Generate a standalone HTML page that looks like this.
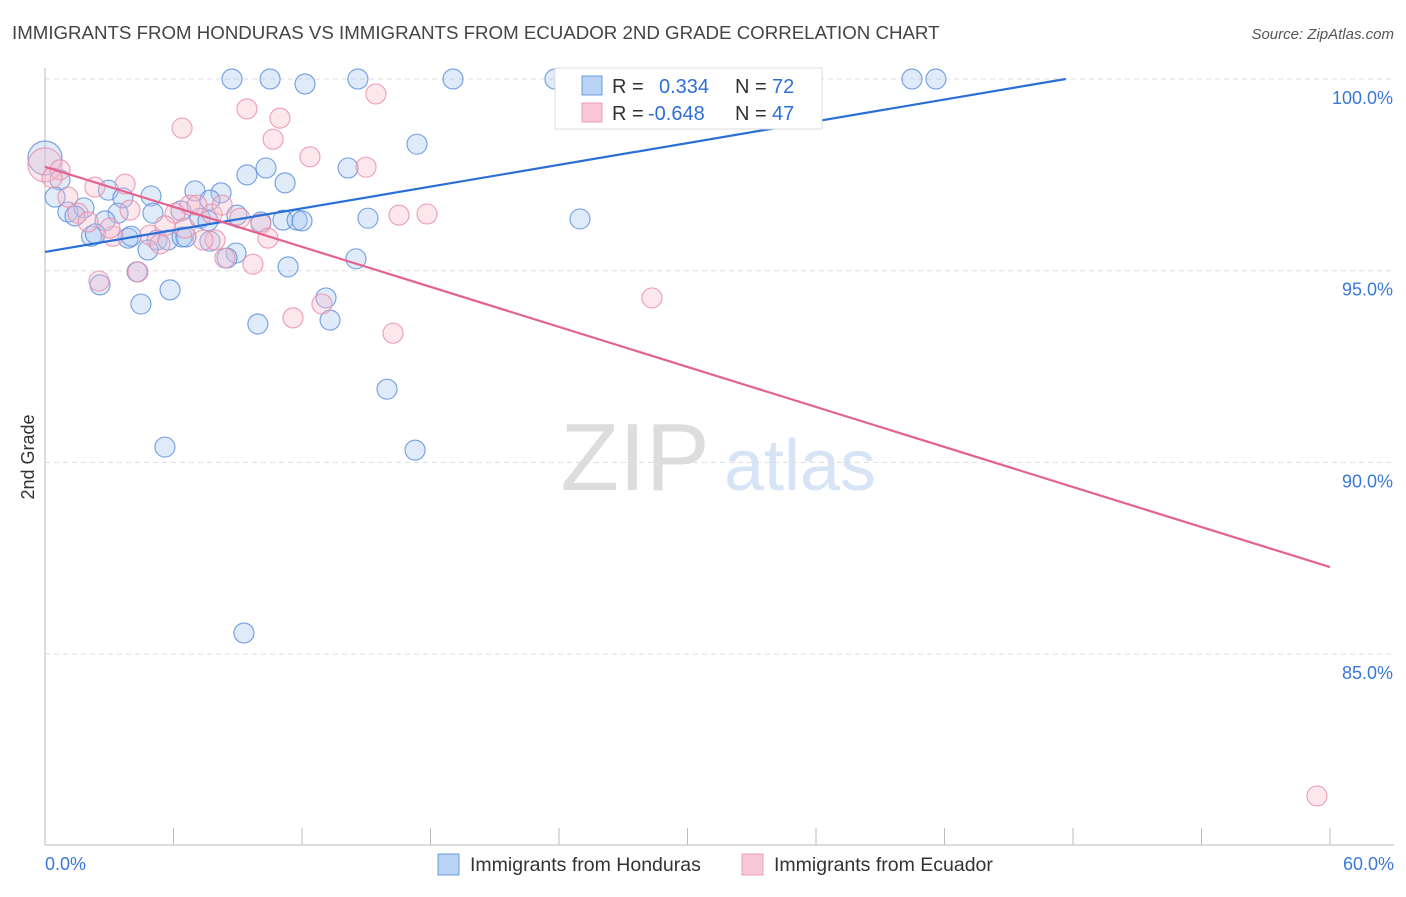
<!DOCTYPE html>
<html><head><meta charset="utf-8"><style>
body{margin:0;background:#fff;font-family:"Liberation Sans",sans-serif}
text{font-family:"Liberation Sans",sans-serif}
</style></head><body>
<svg id="chart" width="1406" height="892">
<text x="12" y="39" font-size="18.7" fill="#444">IMMIGRANTS FROM HONDURAS VS IMMIGRANTS FROM ECUADOR 2ND GRADE CORRELATION CHART</text>
<text x="1394" y="39" font-size="15" fill="#555" font-style="italic" text-anchor="end">Source: ZipAtlas.com</text>
<text x="34" y="457" font-size="18" fill="#333" transform="rotate(-90 34 457)" text-anchor="middle">2nd Grade</text>
<g><text x="635" y="490" font-size="96" fill="#ddd" font-family="Liberation Serif" text-anchor="middle">ZIP</text><text x="800" y="490" font-size="72" fill="#d6e4f5" text-anchor="middle">atlas</text></g>
<g id="grid"></g><g id="axes"></g><g id="pts"></g><g id="trend"></g>
<g>
<rect x="555" y="68" width="267" height="61" fill="#fff" stroke="#ddd"/>
<rect x="582" y="76" width="20" height="19" fill="#b8d3f4" stroke="#6a9be0"/>
<rect x="582" y="103" width="20" height="19" fill="#f9c8d6" stroke="#eb9fb6"/>
<text x="612" y="93" font-size="20" fill="#333">R =</text><text x="659" y="93" font-size="20" fill="#2f6fd6">0.334</text>
<text x="735" y="93" font-size="20" fill="#333">N =</text><text x="772" y="93" font-size="20" fill="#2f6fd6">72</text>
<text x="612" y="120" font-size="20" fill="#333">R =</text><text x="648" y="120" font-size="20" fill="#2f6fd6">-0.648</text>
<text x="735" y="120" font-size="20" fill="#333">N =</text><text x="772" y="120" font-size="20" fill="#2f6fd6">47</text>
</g>
<g>
<rect x="438" y="854" width="21" height="21" fill="#b8d3f4" stroke="#6a9be0"/>
<text x="470" y="871" font-size="19.5" fill="#333">Immigrants from Honduras</text>
<rect x="742" y="854" width="21" height="21" fill="#f9c8d6" stroke="#eb9fb6"/>
<text x="774" y="871" font-size="19.5" fill="#333">Immigrants from Ecuador</text>
</g>
</svg>
<script>
const yTicks=[100,95,90,85];
const xTickLabels=["0.0%","60.0%"];
const blueX=[8.73,10.51,12.14,14.61,19.05,23.81,24.51,27.41,28.15,40.48,41.6,17.37,14.15,10.32,9.43,11.21,0.7,0.47,2.96,7.0,8.22,4.95,3.64,7.7,1.07,1.82,1.4,3.41,5.04,6.35,8.96,7.24,7.61,10.08,11.11,11.77,12.0,15.08,24.98,2.8,2.17,2.35,3.88,4.02,5.23,4.81,5.74,6.4,6.58,7.7,8.92,8.5,14.52,11.35,4.3,2.57,5.84,4.48,13.12,13.31,9.94,15.97,5.6,17.28,9.29,0];
const blueY=[100,100,99.87,100,100,100,100,100,100,100,100,98.3,97.68,97.68,97.5,97.29,97.37,96.92,97.1,97.08,97.03,96.95,96.9,96.84,96.53,96.64,96.43,96.5,96.5,96.56,96.45,96.37,96.3,96.27,96.32,96.32,96.3,96.37,96.35,96.3,95.9,95.96,95.85,95.9,95.8,95.54,95.8,95.88,95.88,95.77,95.46,95.33,95.31,95.1,94.97,94.63,94.5,94.13,94.29,93.71,93.61,91.91,90.4,90.32,85.55,97.94];
const pinkX=[0,0.7,0.33,2.33,3.74,1.07,6.4,9.43,10.97,10.65,12.37,15.45,14.99,16.53,17.84,28.34,16.25,59.39,3.97,1.54,2.01,3.18,4.9,5.37,6.07,6.77,7.1,7.8,8.27,7.94,7.38,9.1,10.08,10.41,8.4,9.71,4.34,2.52,11.58,12.93,5.6,3.03,6.54];
const pinkY=[97.76,97.63,97.42,97.18,97.26,96.92,98.72,99.22,98.98,98.43,97.97,99.61,97.7,96.45,96.48,94.29,93.37,81.3,96.58,96.5,96.27,95.9,95.93,95.7,96.5,96.71,96.71,96.48,96.71,95.8,95.8,96.37,96.22,95.85,95.33,95.17,94.97,94.73,93.77,94.13,96.17,96.11,96.11];
const blueTrend=[[0,95.49],[47.66,100]];
const pinkTrend=[[0,97.71],[60,87.27]];
const sx=v=>45+v/60*1285;
const sy=v=>79+(100-v)/5*191.7;
const NS="http://www.w3.org/2000/svg";
function mk(t,a,p){const e=document.createElementNS(NS,t);for(const k in a)e.setAttribute(k,a[k]);p.appendChild(e);return e;}
const grid=document.getElementById('grid'),axes=document.getElementById('axes'),pts=document.getElementById('pts'),tr=document.getElementById('trend');
yTicks.forEach(v=>{
 const l=mk('line',{x1:45,x2:1394,y1:sy(v),y2:sy(v),stroke:'#ddd','stroke-dasharray':'5,4'},grid);
 
 
 const t=mk('text',{x:1393,y:sy(v)+25,'font-size':18,fill:'#3a78d8','text-anchor':'end'},grid);
 t.textContent=v.toFixed(1)+'%';
 
 
});
const ax=mk('line',{x1:45,x2:45,y1:68,y2:845,stroke:'#bbb'},axes);


const bx=mk('line',{x1:45,x2:1394,y1:845,y2:845,stroke:'#bbb'},axes);


for(let i=0;i<=10;i++){const t=mk('line',{x1:sx(i*6),x2:sx(i*6),y1:828,y2:845,stroke:'#bbb'},axes);
 
 }
[[45,'start'],[1394,'end']].forEach((p,i)=>{const t=mk('text',{x:p[0],y:870,'font-size':18,fill:'#3a78d8','text-anchor':p[1]},axes);t.textContent=xTickLabels[i];
 
 });
function dots(X,Y,f,s,name){X.forEach((x,i)=>{const r=(x===0&&(Y[i]>97.7))?17:10;
 const c=mk('circle',{cx:sx(x),cy:sy(Y[i]),r:r,fill:f,'fill-opacity':0.35,stroke:s,'stroke-opacity':0.8,'stroke-width':1.2},pts);
 
 });}
dots(blueX,blueY,'#a6c6f0','#5b90dc','honduras-point');
dots(pinkX,pinkY,'#f6b9cb','#e88eaa','ecuador-point');
const b=mk('line',{x1:sx(blueTrend[0][0]),y1:sy(blueTrend[0][1]),x2:sx(blueTrend[1][0]),y2:sy(blueTrend[1][1]),stroke:'#2a6fd6','stroke-width':2.2},tr);


const p=mk('line',{x1:sx(pinkTrend[0][0]),y1:sy(pinkTrend[0][1]),x2:sx(pinkTrend[1][0]),y2:sy(pinkTrend[1][1]),stroke:'#e4628f','stroke-width':2.2},tr);


</script>
</body></html>
